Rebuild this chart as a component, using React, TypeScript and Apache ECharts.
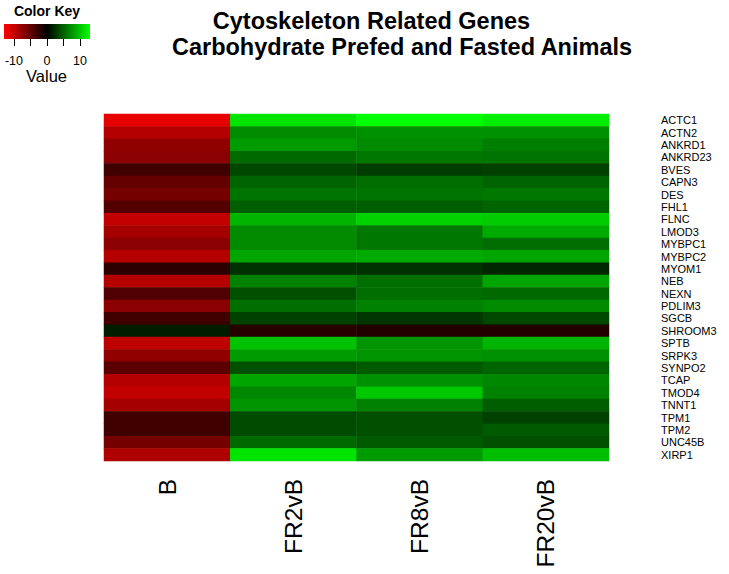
import React, { useEffect, useRef } from "react";
import * as echarts from "echarts";

const titleLines = ["Cytoskeleton Related Genes", "Carbohydrate Prefed and Fasted Animals"];
const columns = ["B", "FR2vB", "FR8vB", "FR20vB"];
const genes = [
  "ACTC1", "ACTN2", "ANKRD1", "ANKRD23", "BVES", "CAPN3", "DES", "FHL1", "FLNC", "LMOD3",
  "MYBPC1", "MYBPC2", "MYOM1", "NEB", "NEXN", "PDLIM3", "SGCB", "SHROOM3", "SPTB", "SRPK3",
  "SYNPO2", "TCAP", "TMOD4", "TNNT1", "TPM1", "TPM2", "UNC45B", "XIRP1",
];
const valuesB = [
  -11.7, -9.2, -7.4, -7.1, -3.3, -5.1, -5.9, -4.3, -9.9, -8.4,
  -7.1, -9.2, -2.3, -9.2, -4.1, -7.1, -3.3, 1.5, -9.7, -7.4,
  -4.6, -9.2, -9.9, -8.4, -3.3, -3.3, -5.9, -8.9,
];
const valuesFR2vB = [
  11.7, 7.1, 7.9, 5.4, 3.6, 5.1, 5.9, 4.8, 9.2, 7.1,
  7.1, 8.4, 2.5, 6.6, 4.1, 5.6, 3.3, -2.0, 9.9, 7.9,
  4.1, 8.4, 6.9, 7.6, 3.8, 3.8, 5.4, 11.7,
];
const valuesFR8vB = [
  13.0, 7.4, 7.1, 6.1, 3.1, 5.6, 5.9, 4.8, 10.7, 6.1,
  6.1, 8.7, 2.5, 5.6, 5.6, 6.6, 2.8, -1.8, 7.6, 7.6,
  4.6, 7.4, 10.2, 6.6, 4.1, 4.1, 4.6, 7.9,
];
const valuesFR20vB = [
  12.2, 7.4, 6.4, 5.9, 3.3, 5.1, 6.1, 5.1, 10.4, 8.7,
  5.6, 8.4, 2.0, 8.4, 5.4, 7.1, 3.6, -1.8, 9.2, 7.4,
  5.1, 6.9, 6.6, 4.8, 3.3, 4.6, 4.1, 9.7,
];
const columnValues = [valuesB, valuesFR2vB, valuesFR8vB, valuesFR20vB];
const keyMin = -13;
const keyMax = 13;
const keyTicks = [-10, -5, 0, 5, 10];
const keyLabels = [-10, 0, 10];

const FONT = "'Liberation Sans', Arial, sans-serif";

export default function App() {
  const ref = useRef<HTMLDivElement>(null);
  useEffect(() => {
    if (!ref.current) return;
    const chart = echarts.init(ref.current, null, { renderer: "svg" });
    const data: [number, number, number][] = [];
    columnValues.forEach((vals, ci) => vals.forEach((v, ri) => data.push([ci, ri, v])));
    chart.setOption({
      animation: false,
      backgroundColor: "#ffffff",
      textStyle: { fontFamily: FONT },
      grid: [
        { left: 104, top: 114, width: 505, height: 347 },
        { left: 4, top: 24, width: 86, height: 15 },
      ],
      xAxis: [
        {
          type: "category",
          gridIndex: 0,
          data: columns,
          axisLine: { show: false },
          axisTick: { show: false },
          splitLine: { show: false },
          axisLabel: { rotate: 90, fontSize: 24.5, margin: 18, color: "#000", fontFamily: FONT },
        },
        {
          type: "value",
          gridIndex: 1,
          min: keyMin,
          max: keyMax,
          axisLine: { show: false },
          splitLine: { show: false },
          axisTick: { show: true, customValues: keyTicks, length: 7, lineStyle: { color: "#000", width: 1 } },
          axisLabel: { customValues: keyLabels, fontSize: 12.5, color: "#000", margin: 15.5, fontFamily: FONT },
        },
      ],
      yAxis: [
        {
          type: "category",
          gridIndex: 0,
          data: genes,
          inverse: true,
          position: "right",
          axisLine: { show: false },
          axisTick: { show: false },
          splitLine: { show: false },
          axisLabel: { interval: 0, fontSize: 11, color: "#000", margin: 52, fontFamily: FONT },
        },
        { type: "value", gridIndex: 1, show: false },
      ],
      visualMap: {
        type: "continuous",
        show: false,
        min: keyMin,
        max: keyMax,
        seriesIndex: 0,
        inRange: { color: ["#ff0000", "#000000", "#00ff00"] },
      },
      series: [
        {
          type: "heatmap",
          xAxisIndex: 0,
          yAxisIndex: 0,
          data,
          itemStyle: { borderWidth: 0 },
          emphasis: { disabled: true },
        },
      ],
      graphic: [
        {
          type: "rect",
          shape: { x: 4, y: 24, width: 86, height: 15 },
          style: {
            fill: new echarts.graphic.LinearGradient(0, 0, 1, 0, [
              { offset: 0, color: "#ff0000" },
              { offset: 0.5, color: "#000000" },
              { offset: 1, color: "#00ff00" },
            ]),
          },
        },
        {
          type: "text",
          x: 47,
          y: 10.5,
          style: { text: "Color Key", fontSize: 14, fontWeight: "bold", fontFamily: FONT, fill: "#000", align: "center", verticalAlign: "middle" },
        },
        {
          type: "text",
          x: 46.5,
          y: 76,
          style: { text: "Value", fontSize: 16.5, fontFamily: FONT, fill: "#000", align: "center", verticalAlign: "middle" },
        },
        {
          type: "text",
          x: 371.5,
          y: 20.9,
          style: { text: titleLines[0], fontSize: 23.5, fontWeight: "bold", fontFamily: FONT, fill: "#000", align: "center", verticalAlign: "middle" },
        },
        {
          type: "text",
          x: 402,
          y: 47.4,
          style: { text: titleLines[1], fontSize: 23.5, fontWeight: "bold", fontFamily: FONT, fill: "#000", align: "center", verticalAlign: "middle" },
        },
      ],
    });
    return () => chart.dispose();
  }, []);
  return <div ref={ref} style={{ position: "fixed", left: 0, top: 0, width: 729, height: 574 }} />;
}
